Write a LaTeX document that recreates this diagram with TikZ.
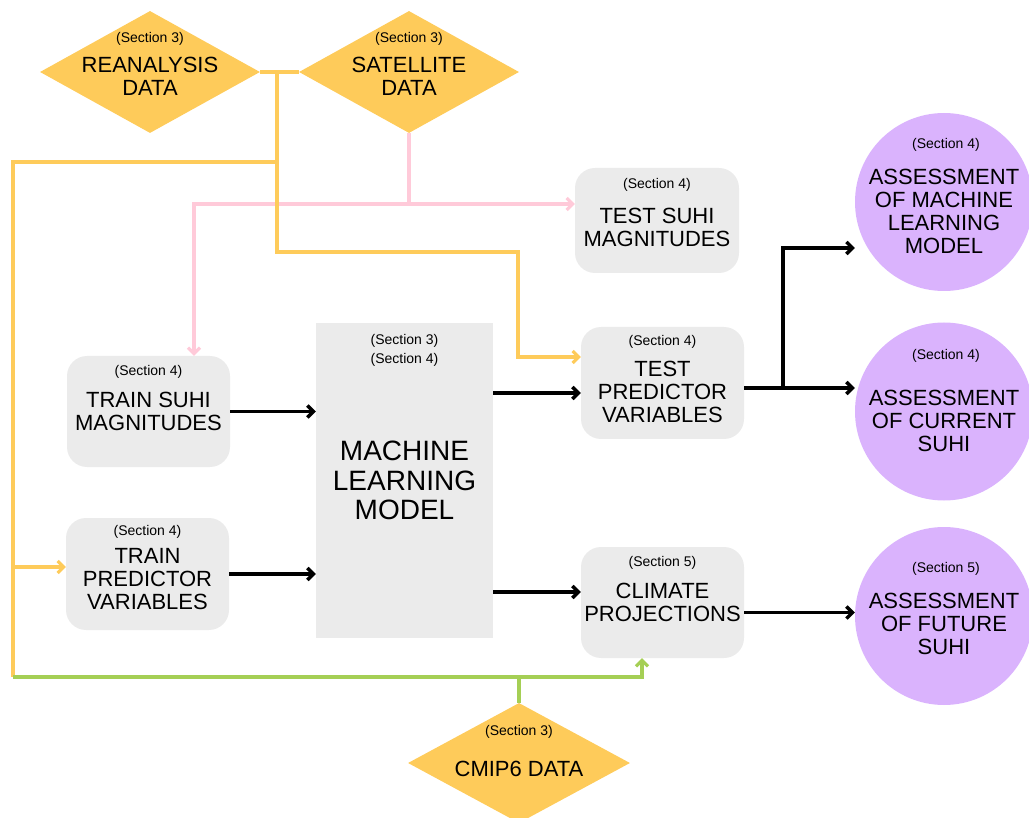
\documentclass[tikz,border=0pt]{standalone}
\usepackage{fontspec}
\setmainfont{Liberation Sans}
\usetikzlibrary{shapes.geometric, arrows.meta}
\definecolor{dataorange}{HTML}{FECB5A}
\definecolor{boxgray}{HTML}{EBEBEB}
\definecolor{respurple}{HTML}{DAB3FD}
\definecolor{satpink}{HTML}{FFCAD9}
\definecolor{cmipgreen}{HTML}{A5CF55}
\begin{document}
\begin{tikzpicture}[x=1pt, y=-1pt, >={Straight Barb[length=6pt, width=12pt]},
    box/.style={fill=boxgray, rounded corners=20pt, minimum width=163pt, minimum height=111pt, inner sep=0pt, align=center, font=\fontsize{22}{23}\selectfont},
    mlbox/.style={fill=boxgray, minimum width=177pt, minimum height=315pt, inner sep=0pt, align=center, font=\fontsize{28}{29.5}\selectfont},
    dia/.style={diamond, fill=dataorange, minimum width=220pt, minimum height=122pt, inner sep=0pt},
    res/.style={circle, fill=respurple, minimum size=178pt, inner sep=0pt},
    sec/.style={font=\fontsize{14}{19}\selectfont, align=center, inner sep=0pt},
    lbl/.style={font=\fontsize{22}{23}\selectfont, align=center, inner sep=0pt},
    flow/.style={line width=3.4pt, black},
    feed/.style={line width=3.1pt, dataorange},
    pinkln/.style={line width=3.1pt, satpink},
    cmipln/.style={line width=3.1pt, cmipgreen}]
  \useasboundingbox (0,0) rectangle (1029,818);

  % data sources
  \node[dia] (rean) at (150,72) {};
  \node[dia] (sat) at (409,72) {};
  \node[dia, minimum width=222pt, minimum height=120pt] (cmip) at (519,763) {};
  \node[lbl] (reant) at (150,76.5) {REANALYSIS\\DATA};
  \node[lbl] (satt) at (409,76.5) {SATELLITE\\DATA};
  \node[lbl] (cmipt) at (519,768.5) {CMIP6 DATA};
  \node[sec] (reans) at (150,39) {(Section 3)};
  \node[sec] (sats) at (409,39) {(Section 3)};
  \node[sec] (cmips) at (519,731.5) {(Section 3)};

  % boxes
  \node[box] (tsm) at (148.5,411.5) {TRAIN SUHI\\MAGNITUDES};
  \node[box, minimum height=112pt] (tpv) at (147.5,574) {};
  \node[mlbox] (ml) at (404.5,480.5) {MACHINE\\LEARNING\\MODEL};
  \node[box, minimum width=164pt, minimum height=105pt] (tst) at (657,220.5) {};
  \node[box, minimum height=112pt] (tep) at (662.5,383) {};
  \node[box] (clim) at (662.5,602.5) {CLIMATE\\PROJECTIONS};
  \node[lbl] (tpvt) at (147.5,579) {TRAIN\\PREDICTOR\\VARIABLES};
  \node[lbl] (tstt) at (657,227) {TEST SUHI\\MAGNITUDES};
  \node[lbl] (tept) at (662.5,392) {TEST\\PREDICTOR\\VARIABLES};
  \node[sec] (tsms) at (148.5,371.5) {(Section 4)};
  \node[sec] (tpvs) at (147.5,532) {(Section 4)};
  \node[sec] (mls) at (404.5,350.5) {(Section 3)\\(Section 4)};
  \node[sec] (tsts) at (657,185) {(Section 4)};
  \node[sec] (teps) at (662.5,341.5) {(Section 4)};
  \node[sec] (clims) at (662.5,562.5) {(Section 5)};

  % assessments
  \node[res] (aml) at (944,202) {};
  \node[res] (acur) at (944,411.5) {};
  \node[res] (afut) at (944,616) {};
  \node[lbl] (amlt) at (944,211.5) {ASSESSMENT\\OF MACHINE\\LEARNING\\MODEL};
  \node[lbl] (acurt) at (944,421) {ASSESSMENT\\OF CURRENT\\SUHI};
  \node[lbl] (afutt) at (944,624) {ASSESSMENT\\OF FUTURE\\SUHI};
  \node[sec] (amls) at (946,145) {(Section 4)};
  \node[sec] (acurs) at (946,356) {(Section 4)};
  \node[sec] (afuts) at (946,568.5) {(Section 5)};

  % junctions
  \coordinate (ja) at (277,72);
  \coordinate (jb) at (277,162);
  \coordinate (jc) at (13,162);
  \coordinate (jd) at (13,677);
  \coordinate (jg) at (13,567);
  \coordinate (je) at (277,252);
  \coordinate (jf) at (518,252);
  \coordinate (jh) at (518,357);
  \coordinate (pa) at (409,204);
  \coordinate (pb) at (194,204);
  \coordinate (ga) at (519,677);
  \coordinate (gc) at (642,677);
  \coordinate (ba) at (783,388);

  % satellite
  \draw[pinkln] (sat.south) -- (pa);
  \draw[pinkln, <->] (pb -| tst.west) -- (pb) -- (pb |- tsm.north);
  % reanalysis
  \draw[feed] (rean.east) -- (sat.west);
  \draw[feed, ->] (ja) -- (je) -- (jf) -- (jh) -- (jh -| tep.west);
  \draw[feed] (jb) -- (jc) -- (jd);
  \draw[feed, ->] (jg) -- (jg -| tpv.west);
  % cmip6
  \draw[cmipln] (cmip.north) -- (ga);
  \draw[cmipln, ->] (jd) -- (gc) -- (gc |- clim.south);

  % model flow
  \draw[flow, ->] (tsm.east) -- (tsm.east -| ml.west);
  \draw[flow, ->] (tpv.east) -- (tpv.east -| ml.west);
  \draw[flow, ->] ([yshift=-10pt]tep.west -| ml.east) -- ([yshift=-10pt]tep.west);
  \draw[flow, ->] ([yshift=10.5pt]clim.west -| ml.east) -- ([yshift=10.5pt]clim.west);
  \draw[flow, ->] ([yshift=-5pt]tep.east) -- ([yshift=-5pt]tep.east -| acur.west);
  \draw[flow, ->] (ba) |- ([yshift=-46pt]aml.west);
  \draw[flow, ->] ([yshift=-10pt]clim.east) -- ([yshift=-10pt]clim.east -| afut.west);
\end{tikzpicture}
\end{document}
